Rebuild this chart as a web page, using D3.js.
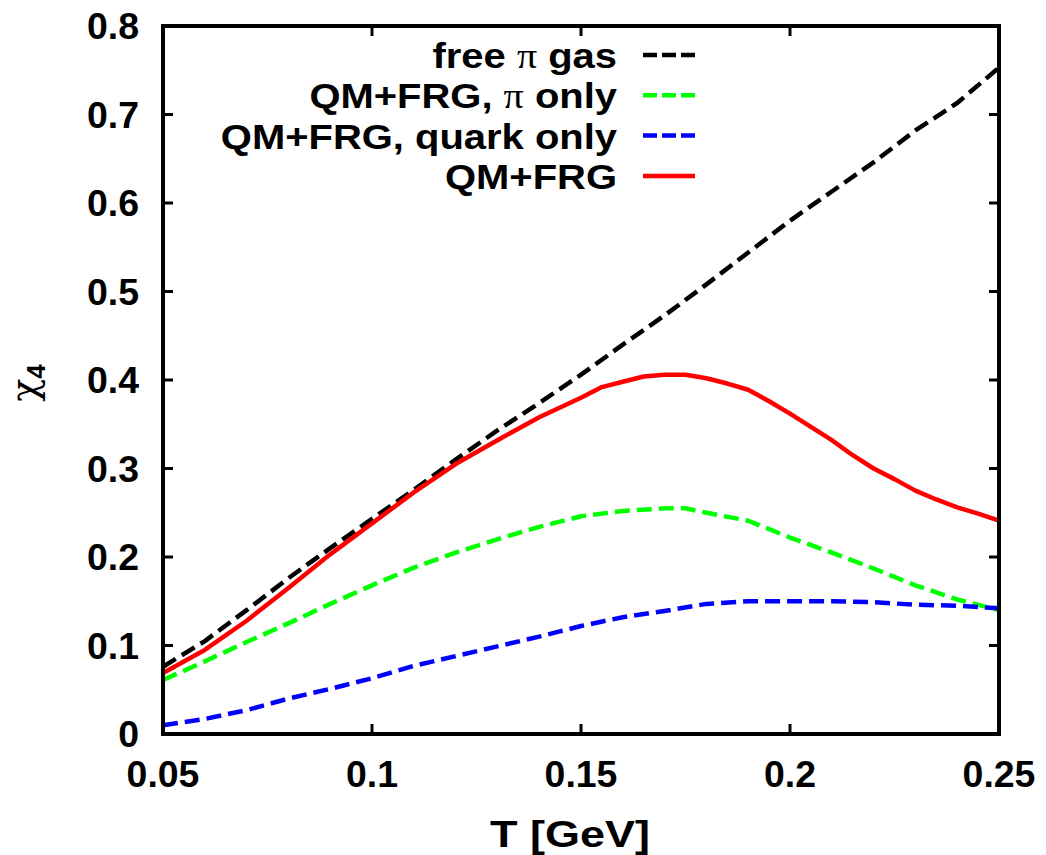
<!DOCTYPE html>
<html>
<head>
<meta charset="utf-8">
<script src="https://cdn.jsdelivr.net/npm/d3@7"></script>
<style>
  body { margin: 0; background: #fff; }
  text { font-family: "Liberation Sans", Arial, sans-serif; font-weight: bold; }
</style>
</head>
<body>
<svg id="chart" width="1046" height="855"></svg>
<script>
// temperatures (GeV) and chi_4 values
const tFree = [0.05, 0.06, 0.07, 0.08, 0.09, 0.10, 0.11, 0.12, 0.13, 0.14, 0.15, 0.16, 0.17, 0.18, 0.19, 0.20, 0.21, 0.22, 0.23, 0.24, 0.25];
const chiFree = [0.076, 0.105, 0.140, 0.176, 0.210, 0.243, 0.276, 0.310, 0.343, 0.374, 0.406, 0.440, 0.473, 0.508, 0.544, 0.580, 0.613, 0.646, 0.682, 0.713, 0.753];

const tPion = [0.05, 0.06, 0.07, 0.08, 0.09, 0.10, 0.11, 0.12, 0.13, 0.14, 0.15, 0.16, 0.17, 0.175, 0.18, 0.19, 0.20, 0.21, 0.22, 0.23, 0.24, 0.25];
const chiPion = [0.061, 0.082, 0.104, 0.125, 0.147, 0.168, 0.188, 0.205, 0.220, 0.234, 0.246, 0.252, 0.255, 0.255, 0.250, 0.241, 0.222, 0.205, 0.187, 0.168, 0.152, 0.140];

const tQuark = [0.05, 0.06, 0.07, 0.08, 0.09, 0.10, 0.11, 0.12, 0.13, 0.14, 0.15, 0.16, 0.17, 0.18, 0.19, 0.20, 0.21, 0.22, 0.23, 0.24, 0.25];
const chiQuark = [0.010, 0.017, 0.027, 0.040, 0.051, 0.063, 0.077, 0.088, 0.099, 0.110, 0.122, 0.132, 0.139, 0.147, 0.150, 0.150, 0.150, 0.149, 0.146, 0.145, 0.142];

const tFull = [0.05, 0.06, 0.07, 0.08, 0.09, 0.10, 0.11, 0.12, 0.13, 0.14, 0.15, 0.155, 0.16, 0.165, 0.17, 0.175, 0.18, 0.185, 0.19, 0.195, 0.20, 0.205, 0.21, 0.215, 0.22, 0.225, 0.23, 0.235, 0.24, 0.245, 0.25];
const chiFull = [0.069, 0.095, 0.128, 0.165, 0.203, 0.238, 0.273, 0.305, 0.332, 0.358, 0.380, 0.392, 0.398, 0.404, 0.406, 0.406, 0.402, 0.396, 0.389, 0.376, 0.362, 0.347, 0.332, 0.315, 0.300, 0.288, 0.275, 0.265, 0.256, 0.249, 0.241];

const xTicks = [0.05, 0.1, 0.15, 0.2, 0.25];
const yTicks = [0, 0.1, 0.2, 0.3, 0.4, 0.5, 0.6, 0.7, 0.8];

const series = [
  {label: ["free ", "π", " gas"], t: tFree, v: chiFree, color: "#000000", dash: "15,7"},
  {label: ["QM+FRG, ", "π", " only"], t: tPion, v: chiPion, color: "#00ff00", dash: "15,7"},
  {label: ["QM+FRG, quark only"], t: tQuark, v: chiQuark, color: "#0000ff", dash: "15,7"},
  {label: ["QM+FRG"], t: tFull, v: chiFull, color: "#ff0000", dash: null}
];

const frame = {left: 163, right: 999, top: 26, bottom: 734};
const svg = d3.select("#chart");

const x = d3.scaleLinear().domain([0.05, 0.25]).range([frame.left, frame.right]);
const y = d3.scaleLinear().domain([0, 0.8]).range([frame.bottom, frame.top]);

// tick marks, inward on all four sides
const tickLen = 10;
const axes = svg.append("g").attr("stroke", "#000").attr("stroke-width", 3);
xTicks.forEach(t => {
  axes.append("line").attr("x1", x(t)).attr("x2", x(t)).attr("y1", frame.bottom).attr("y2", frame.bottom - tickLen);
  axes.append("line").attr("x1", x(t)).attr("x2", x(t)).attr("y1", frame.top).attr("y2", frame.top + tickLen);
});
yTicks.forEach(v => {
  axes.append("line").attr("x1", frame.left).attr("x2", frame.left + tickLen).attr("y1", y(v)).attr("y2", y(v));
  axes.append("line").attr("x1", frame.right).attr("x2", frame.right - tickLen).attr("y1", y(v)).attr("y2", y(v));
});

// tick labels (the original font runs a little wide)
svg.append("g").selectAll("text").data(xTicks).join("text")
    .attr("transform", d => `translate(${x(d)},787) scale(1.04,1)`)
    .attr("text-anchor", "middle").attr("font-size", 36)
    .text(d => d3.format("")(d));
svg.append("g").selectAll("text").data(yTicks).join("text")
    .attr("transform", d => `translate(139,${y(d) + 13}) scale(1.04,1)`)
    .attr("text-anchor", "end").attr("font-size", 36)
    .text(d => d3.format("")(d));

// axis titles
svg.append("text")
    .attr("transform", "translate(570,847) scale(1.25,1)")
    .attr("text-anchor", "middle").attr("font-size", 36)
    .text("T [GeV]");
const ylab = svg.append("text")
    .attr("transform", "translate(37,383) rotate(-90)")
    .attr("text-anchor", "middle").attr("font-size", 38);
ylab.append("tspan").attr("font-family", "'DejaVu Serif', serif").attr("font-weight", "normal").text("χ");
ylab.append("tspan").attr("font-size", 26).attr("dy", 8).text("4");

// curves
const line = d3.line().x(d => x(d[0])).y(d => y(d[1]));
const plot = svg.append("g");
series.forEach(s => {
  plot.append("path")
      .datum(d3.zip(s.t, s.v))
      .attr("d", line)
      .attr("fill", "none")
      .attr("stroke", s.color)
      .attr("stroke-width", 4.5)
      .attr("stroke-dasharray", s.dash)
      .attr("stroke-linejoin", "round");
});

// legend
const legend = svg.append("g");
series.forEach((s, i) => {
  const cy = 55 + i * 40.3;
  const txt = legend.append("text")
      .attr("transform", `translate(617,${cy + 13}) scale(1.11,1)`)
      .attr("text-anchor", "end").attr("font-size", 36);
  s.label.forEach(part => {
    const sp = txt.append("tspan").text(part);
    if (part === "π") sp.attr("font-family", "'Liberation Serif', serif").attr("font-weight", "normal");
  });
  legend.append("line")
      .attr("x1", 643).attr("x2", 695).attr("y1", cy).attr("y2", cy)
      .attr("stroke", s.color).attr("stroke-width", 4.5)
      .attr("stroke-dasharray", s.dash ? "14,5" : null);
});

// frame
svg.append("rect")
    .attr("x", frame.left).attr("y", frame.top)
    .attr("width", frame.right - frame.left).attr("height", frame.bottom - frame.top)
    .attr("fill", "none").attr("stroke", "#000").attr("stroke-width", 4);
</script>
</body>
</html>
